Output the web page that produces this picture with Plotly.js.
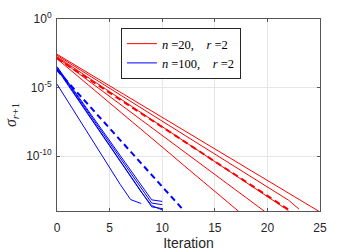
<!DOCTYPE html>
<html><head><meta charset="utf-8">
<script src="https://cdn.plot.ly/plotly-3.0.1.min.js"></script>
<style>html,body{margin:0;padding:0;background:#fff}#chart{width:354px;height:252px}</style>
</head><body><div id="chart"></div>
<script>
// Iteration index
const iterations = [0,1,2,3,4,5,6,7,8,9,10,11,12,13,14,15,16,17,18,19,20,21,22,23,24,25];

// n = 20, r = 2 : individual runs (sigma_{r+1} per iteration)
const red1 = [2.69e-3,9.3e-4,3.2e-4,1.1e-4,3.9e-5,1.35e-5,4.7e-6,1.6e-6,5.6e-7,1.95e-7,6.8e-8,2.3e-8,8.1e-9,2.8e-9,9.8e-10,3.4e-10,1.17e-10,4.1e-11,1.4e-11,4.9e-12,1.7e-12,5.9e-13,2.0e-13,7.1e-14,2.5e-14,8.5e-15];
const red2 = [2.24e-3,7.4e-4,2.45e-4,8.1e-5,2.7e-5,8.9e-6,2.95e-6,9.8e-7,3.2e-7,1.07e-7,3.5e-8,1.17e-8,3.9e-9,1.29e-9,4.3e-10,1.41e-10,4.7e-11,1.55e-11,5.1e-12,1.7e-12,5.6e-13,1.86e-13,6.2e-14,1.4e-14];
const red3 = [1.78e-3,5.5e-4,1.7e-4,5.2e-5,1.62e-5,5.0e-6,1.55e-6,4.8e-7,1.48e-7,4.6e-8,1.41e-8,4.4e-9,1.35e-9,4.2e-10,1.29e-10,4.0e-11,1.23e-11,3.8e-12,1.17e-12,3.6e-13,1.12e-13,3.5e-14,1.07e-14];
const red4 = [1.58e-3,4.3e-4,1.15e-4,3.1e-5,8.3e-6,2.24e-6,6.2e-7,1.66e-7,4.5e-8,1.2e-8,3.2e-9,8.7e-10,2.34e-10,6.3e-11,1.7e-11,4.6e-12,1.26e-12,3.4e-13,9.1e-14,2.45e-14,6.6e-15];
const red5 = [1.26e-3,2.9e-4,6.5e-5,1.48e-5,3.3e-6,7.6e-7,1.74e-7,3.9e-8,8.9e-9,2.0e-9,4.6e-10,1.05e-10,2.3e-11,5.4e-12,1.2e-12,2.75e-13,6.3e-14,1.4e-14,3.2e-15];
// n = 20 dashed reference curve
const redDashed = [1.35e-3,4.3e-4,1.35e-4,4.3e-5,1.35e-5,4.2e-6,1.32e-6,4.2e-7,1.32e-7,4.2e-8,1.32e-8,4.2e-9,1.32e-9,4.2e-10,1.32e-10,4.1e-11,1.29e-11,4.1e-12,1.29e-12,4.1e-13,1.29e-13,4.1e-14,1.29e-14];

// n = 100, r = 2 : individual runs
const blue1 = [3.4e-4,2.8e-5,2.34e-6,1.95e-7,1.62e-8,1.35e-9,1.12e-10,9.3e-12,7.8e-13,6.5e-14,5.0e-14];
const blue2 = [3.0e-4,2.4e-5,1.9e-6,1.51e-7,1.2e-8,9.5e-10,7.6e-11,6.0e-12,4.8e-13,3.8e-14,2.9e-14];
const blue3 = [2.6e-4,1.95e-5,1.45e-6,1.07e-7,7.9e-9,5.9e-10,4.4e-11,3.2e-12,2.4e-13,2.0e-14,1.5e-14];
const blue4 = [2.24e-4,1.7e-5,1.29e-6,9.8e-8,7.4e-9,5.6e-10,4.3e-11,3.2e-12,2.45e-13,2.5e-14,1.2e-14];
const blue5 = [1.78e-5,1.07e-6,6.3e-8,3.7e-9,2.24e-10,1.35e-11,8.9e-13,6.8e-14,3.5e-14];
// n = 100 dashed reference curve
const blueDashed = [1.9e-4,2.7e-5,3.8e-6,5.4e-7,7.6e-8,1.07e-8,1.51e-9,2.1e-10,3.0e-11,4.3e-12,6.0e-13,8.5e-14,1.2e-14];

const NB = '\u00a0';
const legendRed = '<i>n</i>' + NB + '=20,' + NB + NB + NB + NB + '<i>r</i>' + NB + '=2';
const legendBlue = '<i>n</i>' + NB + '=100,' + NB + NB + NB + NB + '<i>r</i>' + NB + '=2';

const xTickVals = [0,5,10,15,20,25];
const yTickVals = [1e-10,1e-5,1];
const yTickText = ['10<sup>-10</sup>','10<sup>-5</sup>','10<sup>0</sup>'];

const RED = 'rgb(255,0,0)', BLUE = 'rgb(0,0,255)';

function run(vals, color, name, show, dashed) {
  return {
    x: iterations.slice(0, vals.length), y: vals, type: 'scatter', mode: 'lines',
    name: name || '', showlegend: !!show, hoverinfo: 'skip',
    line: dashed ? {color: color, width: 2, dash: '6px,4px'} : {color: color, width: 1}
  };
}

const data = [
  run(red1, RED, legendRed, true, false),
  run(red2, RED), run(red3, RED), run(red4, RED), run(red5, RED),
  run(redDashed, RED, '', false, true),
  run(blue1, BLUE, legendBlue, true, false),
  run(blue2, BLUE), run(blue3, BLUE), run(blue4, BLUE), run(blue5, BLUE),
  run(blueDashed, BLUE, '', false, true)
];

const axisCommon = {
  showline: true, linecolor: '#555', linewidth: 1, mirror: 'ticks',
  ticks: 'inside', ticklen: 3, tickcolor: '#555', tickwidth: 1,
  showgrid: true, gridcolor: '#e6e6e6', gridwidth: 1, zeroline: false,
  tickfont: {family: 'Liberation Sans, Arial, sans-serif', size: 12, color: '#262626'}
};

const layout = {
  width: 354, height: 252,
  margin: {l: 57, r: 34, t: 19, b: 41, pad: 0},
  paper_bgcolor: '#fff', plot_bgcolor: '#fff',
  showlegend: true,
  legend: {
    x: 0.243, y: 0.953, xanchor: 'left', yanchor: 'top',
    bgcolor: '#fff', bordercolor: '#262626', borderwidth: 1,
    font: {family: 'Liberation Serif, serif', size: 12.5, color: '#000'},
    tracegroupgap: 0
  },
  xaxis: Object.assign({}, axisCommon, {
    range: [0, 25], tickvals: xTickVals, ticktext: xTickVals.map(String),
    ticklabelstandoff: 6,
    title: {text: 'Iteration', font: {family: 'Liberation Sans, Arial, sans-serif', size: 14, color: '#262626'}, standoff: 2}
  }),
  yaxis: Object.assign({}, axisCommon, {
    type: 'log', range: [-14, 0], tickvals: yTickVals, ticktext: yTickText,
    ticklabelstandoff: 2,
    title: {text: '<i>σ</i><sub><i>r</i>+1</sub>', font: {family: 'Liberation Serif, serif', size: 16, color: '#262626'}, standoff: 5}
  })
};

Plotly.newPlot('chart', data, layout, {staticPlot: true, displayModeBar: false});
</script>
</body></html>
